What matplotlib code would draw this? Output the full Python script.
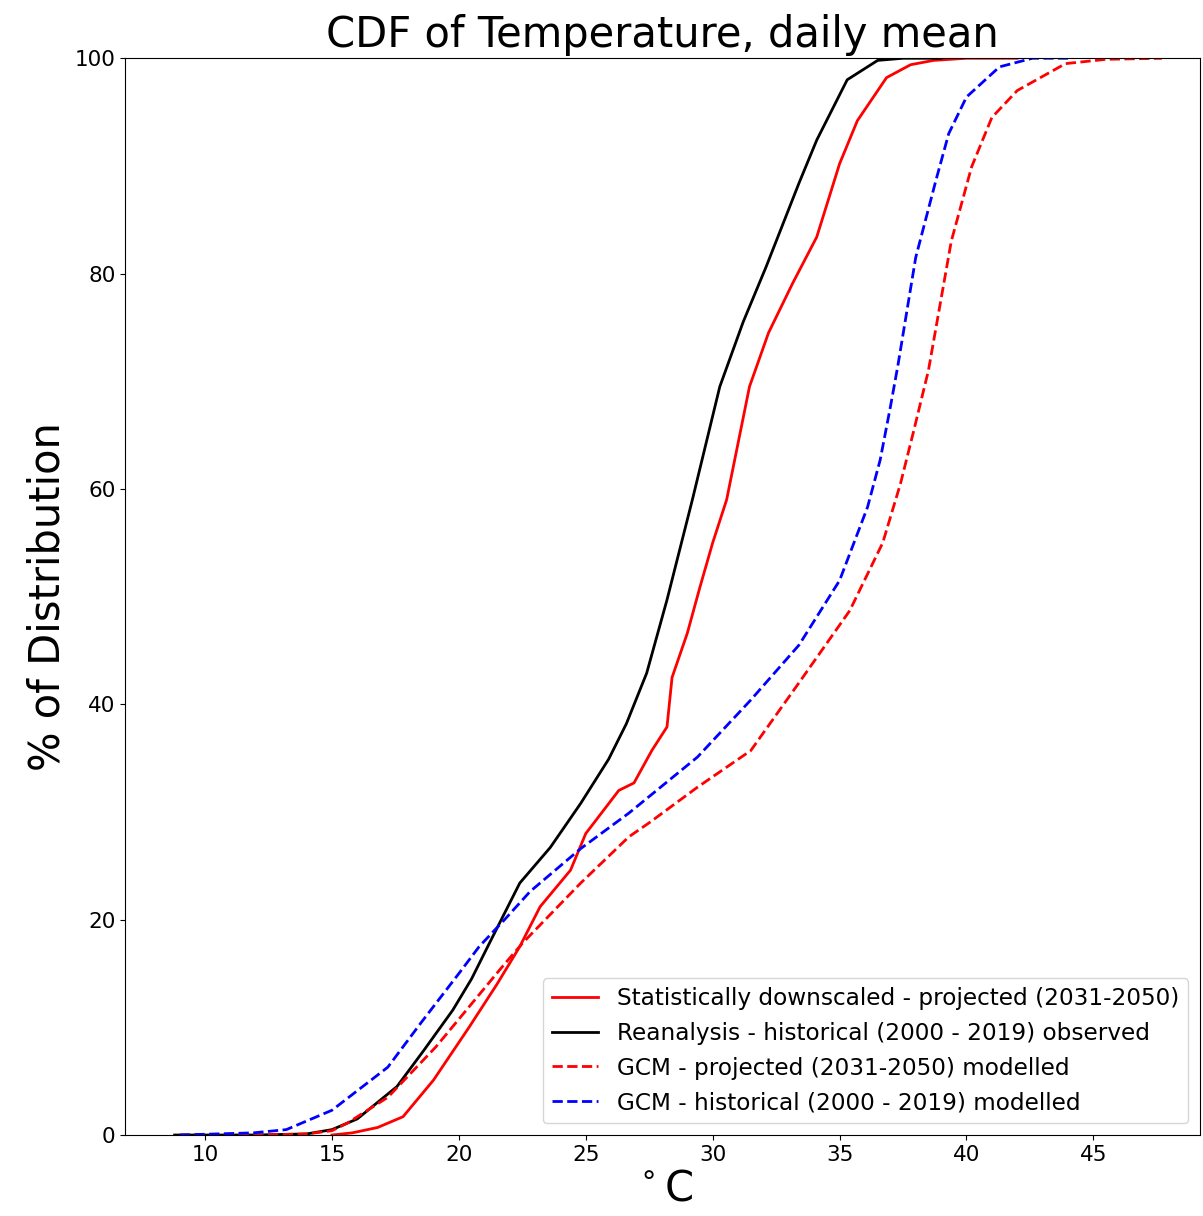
import matplotlib.pyplot as plt
import numpy as np

# CDF curves (temperature degC, % of distribution)
sd_x = [15.0, 15.8, 16.8, 17.8, 19.0, 20.4, 21.5, 22.4, 23.2, 24.4, 25.0, 26.3, 26.9,
        27.6, 28.2, 28.4, 29.0, 29.5, 30.0, 30.55, 31.45, 32.2, 33.15, 34.1, 35.0,
        35.7, 36.85, 37.8, 38.7, 40.0, 42.0]
sd_y = [0.0, 0.2, 0.7, 1.7, 5.1, 10.0, 14.0, 17.5, 21.2, 24.6, 28.0, 32.0, 32.7,
        35.7, 37.9, 42.5, 46.6, 50.9, 55.0, 59.0, 69.5, 74.5, 79.1, 83.4, 90.2,
        94.2, 98.2, 99.4, 99.8, 100.0, 100.0]

re_x = [8.8, 12.0, 14.0, 15.0, 16.0, 17.56, 18.6, 19.76, 20.5, 21.2, 22.4, 23.6,
        24.8, 25.9, 26.6, 27.4, 28.2, 29.2, 30.28, 31.2, 32.1, 33.4, 34.1, 35.3,
        36.5, 37.5, 39.0]
re_y = [0.0, 0.0, 0.1, 0.5, 1.5, 4.5, 7.8, 11.6, 14.5, 17.8, 23.4, 26.7,
        30.8, 34.9, 38.2, 42.9, 49.7, 59.0, 69.5, 75.5, 80.6, 88.4, 92.4, 98.0,
        99.8, 100.0, 100.0]

gp_x = [9.0, 12.0, 14.0, 15.0, 15.6, 17.2, 19.1, 21.7, 22.5, 24.8, 26.7, 27.5,
        29.4, 31.5, 33.4, 35.4, 36.7, 37.4, 37.9, 38.5, 39.4, 40.2, 41.0, 42.0,
        43.9, 45.5, 47.7]
gp_y = [0.0, 0.0, 0.1, 0.4, 1.1, 3.5, 8.2, 15.6, 17.8, 23.4, 27.7, 29.0,
        32.3, 35.7, 42.0, 48.7, 55.0, 60.5, 65.2, 71.0, 83.0, 89.9, 94.5, 97.0,
        99.5, 99.9, 100.0]

gh_x = [9.0, 11.9, 13.2, 15.0, 17.2, 18.5, 20.0, 20.8, 21.8, 22.8, 24.8, 26.7,
        29.4, 31.5, 33.4, 35.0, 36.1, 36.6, 37.0, 37.3, 38.0, 38.8, 39.3, 40.0,
        41.3, 42.6, 44.0]
gh_y = [0.0, 0.2, 0.5, 2.3, 6.3, 10.4, 15.0, 17.5, 20.0, 22.6, 26.6, 29.9,
        35.1, 40.4, 45.5, 51.5, 58.3, 62.7, 67.6, 71.5, 81.5, 88.7, 93.0, 96.4,
        99.2, 100.0, 100.0]

labels = ['Statistically downscaled - projected (2031-2050)',
          'Reanalysis - historical (2000 - 2019) observed',
          'GCM - projected (2031-2050) modelled',
          'GCM - historical (2000 - 2019) modelled']

fig = plt.figure(figsize=(12.03, 12.16), dpi=100)
ax = fig.add_axes([0.104, 0.0666, 0.8935, 0.8855])

ax.plot(sd_x, sd_y, color='red', lw=2, label=labels[0])
ax.plot(re_x, re_y, color='black', lw=2, label=labels[1])
ax.plot(gp_x, gp_y, color='red', ls='--', lw=2, label=labels[2])
ax.plot(gh_x, gh_y, color='blue', ls='--', lw=2, label=labels[3])

ax.set_xlim(6.85, 49.2)
ax.set_ylim(0, 100)
ax.set_xticks(np.arange(10, 46, 5))
ax.set_yticks(np.arange(0, 101, 20))
ax.tick_params(labelsize=15.5)

ax.set_title('CDF of Temperature, daily mean', fontsize=30, pad=8)
ax.set_ylabel('% of Distribution', fontsize=30)
ax.set_xlabel(r'$^\circ$C', fontsize=30, labelpad=2)

ax.legend(loc='lower right', fontsize=16.7)

fig.savefig('out.png', dpi=100)
